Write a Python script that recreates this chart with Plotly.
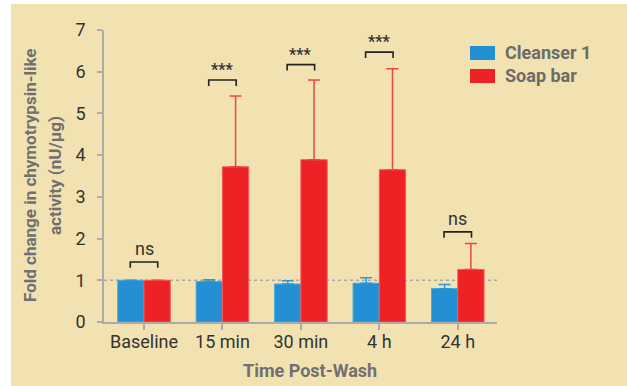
import plotly.graph_objects as go

categories = ["Baseline", "15 min", "30 min", "4 h", "24 h"]
cleanser = [1.0, 0.97, 0.91, 0.93, 0.80]
cleanser_err = [0.0, 0.04, 0.08, 0.13, 0.10]
soap = [1.0, 3.72, 3.89, 3.65, 1.26]
soap_err = [0.0, 1.70, 1.91, 2.42, 0.62]
sig_labels = ["ns", "***", "***", "***", "ns"]
sig_levels = [1.44, 5.80, 6.17, 6.47, 2.16]

BLUE = "#2290D2"
RED = "#EE2125"
BG = "#F2E2B2"
FONT = "Roboto"

# plot area in pixels
L, R, T, B = 104, 497, 30, 322
W, H = 627, 386


def px(x):
    return (x - L) / (R - L)


def py(y):
    return (B - y) / (B - T)


fig = go.Figure()
fig.add_trace(go.Bar(
    x=categories, y=cleanser, name="Cleanser 1",
    marker=dict(color=BLUE, line=dict(color="#4aa6dc", width=1)),
    error_y=dict(type="data", symmetric=False, array=cleanser_err,
                 arrayminus=[0] * len(cleanser_err),
                 color="#2a98d8", thickness=1.5, width=6),
))
fig.add_trace(go.Bar(
    x=categories, y=soap, name="Soap bar",
    marker=dict(color=RED, line=dict(color="#f25a5a", width=1)),
    error_y=dict(type="data", symmetric=False, array=soap_err,
                 arrayminus=[0] * len(soap_err),
                 color="#f04444", thickness=1.5, width=6),
))

shapes = []
# beige panel
shapes.append(dict(type="rect", xref="paper", yref="paper",
                   x0=px(11), x1=px(W + 5), y0=py(4), y1=py(H + 5),
                   fillcolor=BG, line=dict(width=0), layer="below"))
# dotted reference line at 1
shapes.append(dict(type="line", xref="paper", yref="y", x0=0, x1=1, y0=1, y1=1,
                   line=dict(color="#a8a8a8", width=1.5, dash="dot"), layer="below"))

annotations = []
half = 0.175
tick = 0.14
for i, (lab, lev) in enumerate(zip(sig_labels, sig_levels)):
    shapes.append(dict(type="path", xref="x", yref="y",
                       path=f"M {i - half} {lev - tick} L {i - half} {lev} L {i + half} {lev} L {i + half} {lev - tick}",
                       line=dict(color="#222222", width=1.6)))
    is_ns = lab == "ns"
    annotations.append(dict(x=i, y=lev, xref="x", yref="y",
                            text=lab if is_ns else f"<b>{lab}</b>",
                            showarrow=False, yanchor="bottom", yshift=1 if is_ns else -1,
                            font=dict(family=FONT, size=18 if is_ns else 16, color="#333333")))

# custom legend
for (name, col, ytop) in [("Cleanser 1", BLUE, 46), ("Soap bar", RED, 69)]:
    shapes.append(dict(type="rect", xref="paper", yref="paper",
                       x0=px(470), x1=px(495), y0=py(ytop + 14), y1=py(ytop),
                       fillcolor=col, line=dict(width=0)))
    annotations.append(dict(x=px(503), y=py(ytop + 7), xref="paper", yref="paper",
                            text=f"<b>{name}</b>", showarrow=False,
                            xanchor="left", yanchor="middle",
                            font=dict(family=FONT, size=18, color="#6b6b6b")))

# axis titles
annotations.append(dict(x=px(310), y=py(370), xref="paper", yref="paper",
                        text="<b>Time Post-Wash</b>", showarrow=False,
                        xanchor="center", yanchor="middle",
                        font=dict(family=FONT, size=18, color="#707070")))
for txt, xpos in [("Fold change in chymotrypsin-like", 30), ("activity (nU/µg)", 55)]:
    annotations.append(dict(x=px(xpos), y=py(176), xref="paper", yref="paper",
                            text=f"<b>{txt}</b>", showarrow=False, textangle=-90,
                            xanchor="center", yanchor="middle",
                            font=dict(family=FONT, size=17, color="#707070")))

fig.update_layout(
    width=W, height=H,
    margin=dict(l=L, r=W - R, t=T, b=H - B, pad=0),
    paper_bgcolor="white", plot_bgcolor="rgba(0,0,0,0)",
    barmode="group", bargap=0.33, bargroupgap=0,
    showlegend=False,
    shapes=shapes, annotations=annotations,
    xaxis=dict(range=[-0.51, 4.5], showline=True, linecolor="#ababab", linewidth=1.5,
               ticks="outside", ticklen=6, tickcolor="#ababab", tickwidth=1.5,
               tickfont=dict(family=FONT, size=18, color="#333333"),
               ticklabelstandoff=-3,
               showgrid=False, zeroline=False),
    yaxis=dict(range=[0, 7], dtick=1, showline=True, linecolor="#ababab", linewidth=1.5,
               ticks="outside", ticklen=5, tickcolor="#ababab", tickwidth=1.5,
               tickfont=dict(family=FONT, size=18, color="#333333"),
               ticklabelstandoff=8,
               showgrid=False, zeroline=False),
)

fig.write_html("out.html", config={"displayModeBar": False},
               post_script="document.body.style.margin='0';document.body.style.padding='0';")
